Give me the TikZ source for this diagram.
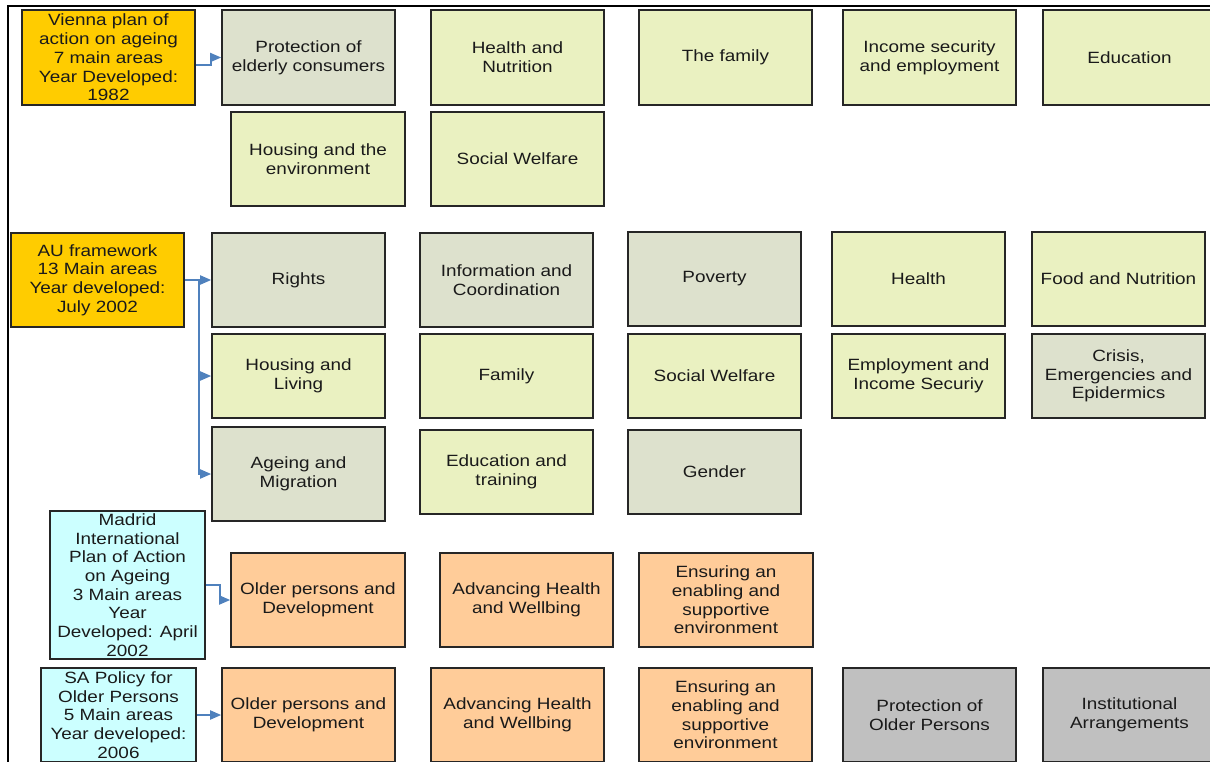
\documentclass[tikz,border=0pt]{standalone}
\usepackage{fontspec}
\setmainfont{Liberation Sans}[FakeStretch=1.16]
\usetikzlibrary{arrows.meta}
\definecolor{cyel}{HTML}{FFCC00}
\definecolor{cgrn}{HTML}{EAF1C1}
\definecolor{cgg}{HTML}{DDE1CD}
\definecolor{ccyan}{HTML}{CCFFFF}
\definecolor{cpeach}{HTML}{FFCC99}
\definecolor{cgray}{HTML}{C0C0C0}
\definecolor{cline}{HTML}{4F81BD}
\definecolor{ctext}{HTML}{1A1A1A}
\tikzset{
  box/.style={draw=black!85,line width=1.6pt,inner sep=0pt,align=center,
    text=ctext,font=\fontsize{16.3}{18.7}\selectfont},
  conn/.style={draw=cline,line width=1.8pt,-{Triangle[length=11pt,width=9pt]}},
}
\newcommand\bx[7]{\node[box,fill=#6,minimum width={#4-#2},minimum height={#5-#3}] (#1) at ({(#2+#4)/2},{(#3+#5)/2}) {#7};}
\begin{document}
\begin{tikzpicture}[x=1pt,y=-1pt]
\useasboundingbox (0,0) rectangle (1210,762);
\clip (0,0) rectangle (1210,762);
\fill[white] (0,0) rectangle (1210,762);
\draw[line width=2.6pt,black] (8,766) -- (8,6) -- (1214,6);
% Vienna
\bx{vienna}{22}{10}{195}{105}{cyel}{Vienna plan of\\action on ageing\\7 main areas\\Year Developed:\\1982}
\bx{v1}{222}{10}{395}{105}{cgg}{Protection of\\elderly consumers}
\bx{v2}{431}{10}{604}{105}{cgrn}{Health and\\Nutrition}
\bx{v3}{639}{10}{812}{105}{cgrn}{The family}
\bx{v4}{843}{10}{1016}{105}{cgrn}{Income security\\and employment}
\bx{v5}{1043}{10}{1216}{105}{cgrn}{Education}
\bx{v6}{231}{112}{405}{206}{cgrn}{Housing and the\\environment}
\bx{v7}{431}{112}{604}{206}{cgrn}{Social Welfare}
% AU
\bx{au}{11}{233}{184}{327}{cyel}{AU framework\\13 Main areas\\Year developed:\\July 2002}
\bx{a1}{212}{233}{385}{327}{cgg}{Rights}
\bx{a2}{420}{233}{593}{327}{cgg}{Information and\\Coordination}
\bx{a3}{628}{232}{801}{326}{cgg}{Poverty}
\bx{a4}{832}{232}{1005}{326}{cgrn}{Health}
\bx{a5}{1032}{232}{1205}{326}{cgrn}{Food and Nutrition}
\bx{a6}{212}{334}{385}{418}{cgrn}{Housing and\\Living}
\bx{a7}{420}{334}{593}{418}{cgrn}{Family}
\bx{a8}{628}{334}{801}{418}{cgrn}{Social Welfare}
\bx{a9}{832}{334}{1005}{418}{cgrn}{Employment and\\Income Securiy}
\bx{a10}{1032}{334}{1205}{418}{cgg}{Crisis,\\Emergencies and\\Epidermics}
\bx{a11}{212}{427}{385}{521}{cgg}{Ageing and\\Migration}
\bx{a12}{420}{430}{593}{514}{cgrn}{Education and\\training}
\bx{a13}{628}{430}{801}{514}{cgg}{Gender}
% Madrid
\bx{madrid}{50}{511}{205}{659}{ccyan}{Madrid\\International\\Plan of Action\\on Ageing\\3 Main areas\\Year\\Developed: April\\2002}
\bx{m1}{231}{553}{405}{647}{cpeach}{Older persons and\\Development}
\bx{m2}{440}{553}{613}{647}{cpeach}{Advancing Health\\and Wellbing}
\bx{m3}{639}{553}{813}{647}{cpeach}{Ensuring an\\enabling and\\supportive\\environment}
% SA
\bx{sa}{41}{668}{196}{762}{ccyan}{SA Policy for\\Older Persons\\5 Main areas\\Year developed:\\2006}
\bx{s1}{222}{668}{395}{762}{cpeach}{Older persons and\\Development}
\bx{s2}{431}{668}{604}{762}{cpeach}{Advancing Health\\and Wellbing}
\bx{s3}{639}{668}{812}{762}{cpeach}{Ensuring an\\enabling and\\supportive\\environment}
\bx{s4}{843}{668}{1016}{762}{cgray}{Protection of\\Older Persons}
\bx{s5}{1043}{668}{1216}{762}{cgray}{Institutional\\Arrangements}
% connectors
\draw[conn] ([yshift=-7.5pt]vienna.east) -- ++(15,0) |- (v1.west);
\draw[conn] (au.east) -- ++(14,0) coordinate (j) -- (a1.west);
\draw[conn] (j) |- (a6.west);
\draw[conn] (j) |- (a11.west);
\draw[conn] (madrid.east) -- ++(14,0) |- (m1.west);
\draw[conn] (sa.east) -- (s1.west);
\end{tikzpicture}
\end{document}
